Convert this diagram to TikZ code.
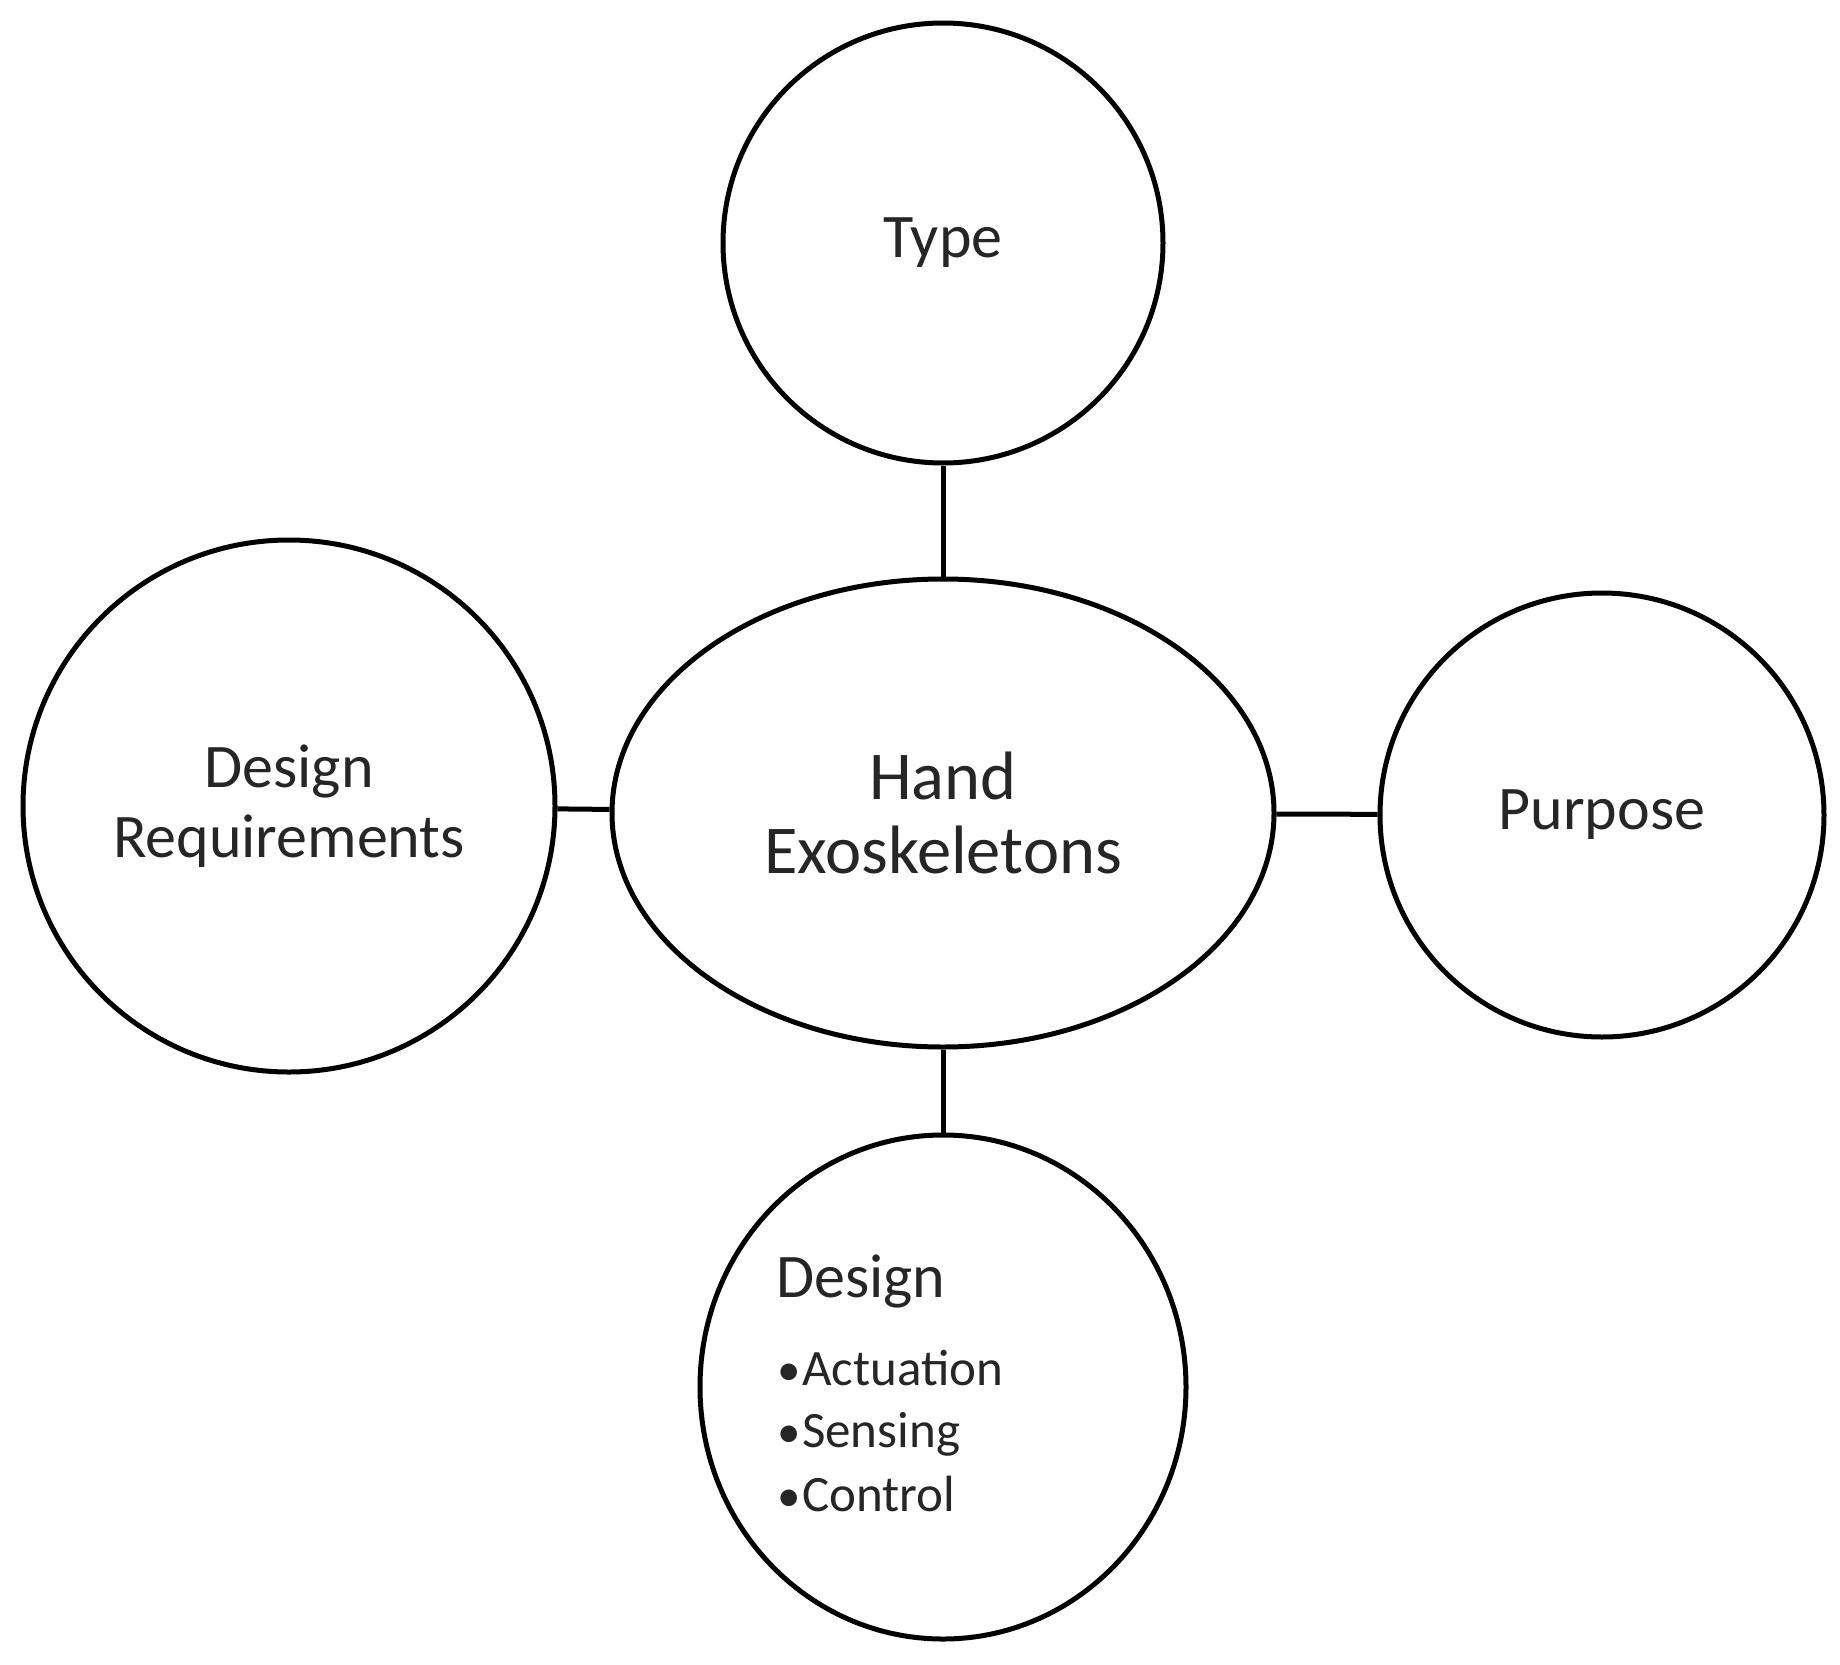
\documentclass[tikz,border=0pt]{standalone}
\usepackage{fontspec}
\setmainfont{Carlito}
\usetikzlibrary{shapes.geometric}
\begin{document}
\begin{tikzpicture}[x=1pt,y=-1pt,
  bubble/.style={draw=black,line width=5pt,circle,inner sep=0pt,align=center,
    font=\fontsize{62}{70}\selectfont,text=black!85},
  link/.style={draw=black,line width=5pt},
  item/.style={anchor=base west,inner sep=0pt,font=\fontsize{51}{60}\selectfont,text=black!85}]
\newcommand{\blt}{{\fontsize{47}{50}\selectfont•}\hspace{1.5pt}}
\useasboundingbox (0,0) rectangle (1840,1665);
\node[draw=black,line width=5pt,ellipse,minimum width=662pt,minimum height=468pt,inner sep=0pt,
  align=center,font=\fontsize{68.5}{74}\selectfont,text=black!85] (hub) at (943,813) {Hand\\Exoskeletons};
\node[bubble,minimum size=440pt] (type) at (943,243) {Type};
\node[bubble,minimum size=532pt] (dr) at (289,806) {Design\\Requirements};
\node[bubble,minimum size=444pt] (purp) at (1602,815) {Purpose};
\node[draw=black,line width=5pt,ellipse,inner sep=0pt,minimum width=486pt,minimum height=504pt] (des) at (943,1387) {};
\node[anchor=base west,inner sep=0pt,font=\fontsize{62}{70}\selectfont,text=black!85] (dtitle) at (776,1297) {Design};
\node[item] (d1) at (777,1385) {\blt Actuation};
\node[item] (d2) at (777,1447) {\blt Sensing};
\node[item] (d3) at (777,1511) {\blt Control};
\draw[link] (type) -- (hub);
\draw[link] (dr) -- (hub);
\draw[link] (hub) -- (purp);
\draw[link] (hub) -- (des);
\end{tikzpicture}
\end{document}
